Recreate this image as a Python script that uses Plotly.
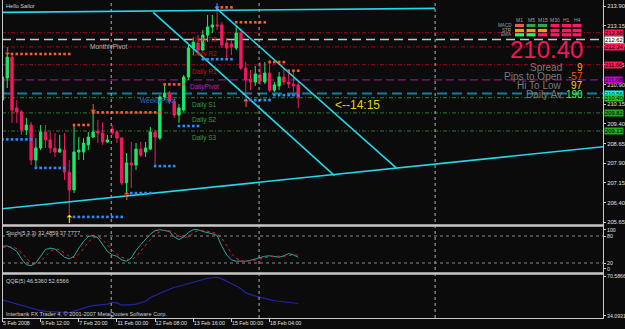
import plotly.graph_objects as go

# ---------------- data (H4 bars, index 0..62) ----------------
bar_index = list(range(63))
open_ = [210.31, 211.15, 211.95, 210.01, 209.86, 209.17, 209.36, 208.02, 208.48, 209.09,
         208.79, 208.48, 208.33, 208.40, 207.56, 206.88, 208.33, 208.33, 208.60, 208.90,
         209.13, 209.05, 208.71, 209.21, 209.09, 208.86, 207.15, 207.91, 207.83, 208.44,
         208.33, 208.44, 209.09, 208.86, 210.43, 210.58, 210.27, 209.74, 209.93, 211.19,
         212.30, 212.49, 212.22, 212.79, 213.10, 213.18, 213.18, 212.49, 212.45, 212.30,
         212.87, 211.53, 211.11, 211.00, 211.27, 211.00, 211.34, 210.69, 210.85, 211.19,
         211.00, 210.92, 210.89]
high_ = [211.31, 212.11, 212.03, 210.31, 209.93, 209.63, 209.47, 208.86, 209.36, 209.36,
         209.09, 209.05, 208.98, 209.05, 208.02, 209.36, 208.90, 208.86, 209.09, 209.93,
         209.55, 209.47, 208.98, 209.36, 209.17, 208.90, 208.29, 208.71, 208.67, 208.71,
         208.71, 209.28, 209.17, 210.50, 210.92, 210.66, 210.35, 210.16, 211.27, 212.45,
         212.68, 212.79, 212.98, 213.56, 213.56, 213.86, 213.29, 212.68, 212.60, 213.18,
         213.06, 211.76, 211.46, 211.61, 211.76, 211.76, 211.84, 211.00, 211.38, 211.53,
         211.46, 211.46, 211.00]
low_ = [210.20, 210.77, 209.44, 209.44, 208.98, 208.98, 207.83, 207.76, 208.40, 208.48,
        208.29, 208.14, 208.29, 207.26, 205.85, 206.76, 208.02, 208.02, 208.40, 208.86,
        208.67, 208.60, 208.67, 208.98, 208.67, 207.07, 206.76, 206.95, 207.64, 208.14,
        208.14, 208.40, 207.83, 208.79, 210.31, 210.16, 209.63, 209.44, 209.86, 211.08,
        212.03, 212.03, 212.18, 212.53, 212.87, 212.98, 212.30, 211.92, 212.03, 212.22,
        211.46, 210.58, 210.69, 210.85, 210.89, 210.92, 210.62, 210.62, 210.69, 210.89,
        210.77, 210.62, 210.01]
close_ = [211.19, 211.95, 209.93, 209.86, 209.17, 209.36, 208.02, 208.48, 209.09, 208.79,
          208.48, 208.33, 208.44, 207.56, 206.88, 208.33, 208.40, 208.67, 208.90, 209.09,
          209.05, 208.71, 208.79, 209.05, 208.86, 207.15, 207.91, 207.83, 208.44, 208.21,
          208.48, 209.09, 208.90, 210.43, 210.58, 210.27, 209.74, 210.01, 211.19, 212.30,
          212.53, 212.22, 212.79, 213.10, 213.18, 213.14, 212.41, 212.30, 212.34, 212.87,
          211.53, 211.08, 211.00, 211.31, 211.04, 211.34, 210.69, 210.89, 211.19, 211.00,
          210.92, 210.85, 210.40]

stoch_main = [57, 58, 53, 46, 29, 16, 14, 20, 35, 50, 53, 51, 42, 33, 29, 35, 53, 68, 79, 81,
              76, 61, 46, 38, 35, 27, 24, 31, 48, 61, 72, 84, 92, 94, 92, 90, 78, 72, 78, 88,
              94, 94, 90, 88, 85, 81, 57, 38, 27, 24, 24, 24, 26, 29, 31, 35, 36, 35, 33, 36,
              41, 38, 32.5]
stoch_signal = [55, 56, 56, 52, 43, 31, 20, 17, 23, 35, 46, 51, 49, 42, 35, 32, 39, 52, 67, 76,
                79, 72, 61, 48, 40, 33, 29, 27, 34, 47, 60, 72, 83, 90, 93, 92, 87, 80, 76, 79,
                87, 92, 93, 91, 88, 85, 74, 59, 41, 30, 25, 24, 25, 26, 29, 32, 34, 35, 35, 35,
                37, 38, 37.8]
qqe_line = [48.7, 47.5, 46.2, 45.0, 43.5, 42.2, 41.0, 39.7, 39.0, 38.3, 38.0, 38.0, 38.0, 37.6,
            37.1, 38.5, 40.0, 41.5, 42.6, 43.5, 44.1, 44.5, 45.0, 46.5, 46.0, 44.1, 44.1, 44.5,
            45.0, 46.0, 47.5, 51.0, 53.0, 54.8, 56.8, 58.4, 60.3, 61.2, 62.4, 63.5, 64.8, 66.5,
            67.6, 68.5, 69.0, 69.4, 68.0, 66.0, 63.9, 61.5, 59.0, 55.4, 53.6, 52.3, 51.0, 50.0,
            49.0, 48.0, 47.6, 47.2, 46.8, 46.0, 45.5]

price_ticks = [213.90, 213.15, 212.40, 211.65, 210.90, 210.15, 209.40, 208.65, 207.90, 207.15,
               206.40, 205.65]
stoch_tick_text = ["100", "80", "20", "0"]
stoch_tick_pos = [94, 80, 20, 7]
qqe_tick_values = [70.5866, 34.0931]
time_tick_bars = [0, 8, 16, 24, 32, 40, 48, 56]
time_tick_text = ["5 Feb 2008", "6 Feb 12:00", "7 Feb 20:00", "11 Feb 00:00", "12 Feb 08:00",
                  "13 Feb 16:00", "15 Feb 00:00", "18 Feb 04:00"]
week_separators = [22.8, 53.8, 90.7]

level_names = ["Daily R3", "MonthlyPivot", "Daily R2", "Daily R1", "DailyPivot", "WeeklyPivot",
               "Daily S1", "Daily S2", "Daily S3"]
level_values = [212.88, 212.62, 212.34, 211.66, 211.08, 210.56, 210.40, 209.82, 209.13]
level_label_bar = [39.4, 18.0, 39.4, 39.4, 38.8, 28.5, 39.4, 39.4, 39.4]

trend_x = [[-0.04, 125.96], [-0.04, 90.7], [31.6, 69.6], [44.8, 82.6]]
trend_y = [[206.16, 208.53], [213.66, 213.81], [213.66, 207.43], [213.82, 207.71]]

blue_dot_start = [0, 7, 15, 27, 32, 37, 42, 51, 57]
blue_dot_end = [6, 13, 25, 31, 36, 41, 48, 56, 62]
blue_dot_price = [208.81, 207.72, 205.85, 206.76, 207.79, 209.32, 211.87, 210.31, 210.50]
orange_dot_start = [2, 15, 19, 34, 45, 49, 56, 60]
orange_dot_end = [14, 18, 33, 38, 48, 55, 59, 62]
orange_dot_price = [212.07, 209.36, 209.84, 210.91, 213.85, 213.28, 211.76, 211.43]

arrow_bar = [1, 19, 45, 51, 26, 14]
arrow_price = [212.15, 209.96, 213.90, 210.16, 206.62, 205.73]
arrow_glyph = ["↓", "↓", "↓", "↑", "↑", "↑"]
arrow_color = ["#FF5A1E", "#FF5A1E", "#3C8CFF", "#FF5A1E", "#FF5A1E", "#FFFF00"]

tf_labels = ["M1", "M5", "M15", "M30", "H1", "H4"]
row_labels = ["MACD", "STR", "EMA"]
signal_colors = [
    ["#E85A5A", "#2FA84A", "#2FA84A", "#FF1A66", "#FF1A66", "#FF1A66"],
    ["#FF9A00", "#FF9A00", "#FF9A00", "#FF1A66", "#FF1A66", "#FF1A66"],
    ["#22FF55", "#22FF55", "#FF1A66", "#FF1A66", "#FF1A66", "#FF1A66"],
]
bid_text = "210.40"
stat_names = ["Spread", "Pips to Open", "Hi To Low", "Daily Av"]
stat_values = ["9", "-57", "97", "190"]
stat_colors = ["#FFA500", "#FF4A1A", "#FFD21E", "#33FF33"]

# ---------------- styling ----------------
BG = "#0b0b0b"
BULL = "#1EE66A"
BEAR = "#F01A5E"
CYAN = "#22D8E8"
AX = "#C8C8C8"
FONT = "Liberation Sans, Arial"

W, H = 625, 329
ML, MR, MT, MB = 2, 22, 3, 11
PW, PH = W - ML - MR, H - MT - MB


def px(x):
    return (x - ML) / PW


def py(y):
    return (H - MB - y) / PH


def note(x, y, text, size, color, xanchor="left", family=FONT):
    return dict(x=px(x), y=py(y), xref="paper", yref="paper", text=text, showarrow=False,
                xanchor=xanchor, yanchor="middle",
                font=dict(family=family, size=size, color=color))


fig = go.Figure()

fig.add_trace(go.Candlestick(
    x=bar_index, open=open_, high=high_, low=low_, close=close_,
    xaxis="x", yaxis="y", whiskerwidth=0, showlegend=False, hoverinfo="skip",
    increasing=dict(line=dict(color=BULL, width=1), fillcolor=BULL),
    decreasing=dict(line=dict(color=BEAR, width=1), fillcolor=BEAR)))

for xs, ys in zip(trend_x, trend_y):
    fig.add_trace(go.Scatter(x=xs, y=ys, mode="lines", xaxis="x", yaxis="y",
                             line=dict(color=CYAN, width=1.6), showlegend=False, hoverinfo="skip"))

for starts, ends, prices, col in [(blue_dot_start, blue_dot_end, blue_dot_price, "#2A8CFF"),
                                  (orange_dot_start, orange_dot_end, orange_dot_price, "#FF5A2A")]:
    xs, ys = [], []
    for s, e, p in zip(starts, ends, prices):
        for k in range(s, e + 1):
            xs.append(k)
            ys.append(p)
    fig.add_trace(go.Scatter(x=xs, y=ys, mode="markers", xaxis="x", yaxis="y",
                             marker=dict(symbol="square", size=2.6, color=col, line=dict(width=0)),
                             showlegend=False, hoverinfo="skip"))

fig.add_trace(go.Scatter(x=arrow_bar, y=arrow_price, mode="text", text=arrow_glyph,
                         textfont=dict(family="DejaVu Sans", size=11, color=arrow_color),
                         xaxis="x", yaxis="y", showlegend=False, hoverinfo="skip"))

fig.add_trace(go.Scatter(x=bar_index, y=stoch_main, mode="lines", xaxis="x2", yaxis="y2",
                         line=dict(color="#2AA5A5", width=1), showlegend=False, hoverinfo="skip"))
fig.add_trace(go.Scatter(x=bar_index, y=stoch_signal, mode="lines", xaxis="x2", yaxis="y2",
                         line=dict(color="#E02020", width=1, dash="dot"), showlegend=False,
                         hoverinfo="skip"))
fig.add_trace(go.Scatter(x=bar_index, y=qqe_line, mode="lines", xaxis="x3", yaxis="y3",
                         line=dict(color="#2424A0", width=1.2), showlegend=False, hoverinfo="skip"))

shapes = []
level_style = {
    "Daily R3": ("#B00018", "4px,2px,1px,2px", 1),
    "Daily R2": ("#B00018", "4px,2px,1px,2px", 1),
    "Daily R1": ("#B00018", "4px,2px,1px,2px", 1),
    "MonthlyPivot": ("#C8C8C8", "9px,5px", 1.5),
    "DailyPivot": ("#A020A0", "8px,4px", 1),
    "WeeklyPivot": ("#1C7A9C", "10px,5px", 2),
    "Daily S1": ("#2E8A2E", "4px,2px,1px,2px", 1),
    "Daily S2": ("#2E7A2E", "4px,2px,1px,2px", 1),
    "Daily S3": ("#2E7A2E", "4px,2px,1px,2px", 1),
}
level_text_color = {"MonthlyPivot": "#B8B8B8", "DailyPivot": "#C020C0", "WeeklyPivot": "#2A6AD0"}
level_box = {"Daily R3": "#FF1A55", "MonthlyPivot": "#FFFFFF", "Daily R2": "#FF1A55",
             "Daily R1": "#FF1A55", "DailyPivot": "#CC00CC", "WeeklyPivot": "#00FFFF",
             "Daily S1": "#22CC22", "Daily S2": "#22AA22", "Daily S3": "#22AA22"}

annotations = []
for name, val, lb in zip(level_names, level_values, level_label_bar):
    col, dash, wdt = level_style[name]
    shapes.append(dict(type="line", xref="paper", yref="y", x0=0, x1=1, y0=val, y1=val,
                       line=dict(color=col, width=wdt, dash=dash), layer="below"))
    tcol = level_text_color.get(name, "#C01010" if "R" in name[-2:] else "#3A9A3A")
    annotations.append(dict(x=lb, y=val, xref="x", yref="y", text=name, showarrow=False,
                            xanchor="left", yanchor="top", yshift=-1,
                            font=dict(family=FONT, size=6.5, color=tcol)))
    annotations.append(dict(x=1, y=val, xref="paper", yref="y", text=f"{val:.2f}",
                            showarrow=False, xanchor="left", yanchor="middle", xshift=1,
                            bgcolor=level_box[name], borderpad=0,
                            font=dict(family=FONT, size=5.8, color="#000000")))

for k in week_separators:
    shapes.append(dict(type="line", xref="x", yref="paper", x0=k, x1=k, y0=0, y1=1,
                       line=dict(color="#B0B0B0", width=1, dash="dot")))
for lvl in [80, 20]:
    shapes.append(dict(type="line", xref="paper", yref="y2", x0=0, x1=1, y0=lvl, y1=lvl,
                       line=dict(color="#8A8A8A", width=1, dash="dot")))

# frame and pane separators
for yy, wd in [(225.5, 2.5), (273.5, 2.5), (318.5, 1)]:
    shapes.append(dict(type="line", xref="paper", yref="paper", x0=px(2), x1=px(603.5),
                       y0=py(yy), y1=py(yy), line=dict(color=AX, width=wd)))
for xx in [2.5, 603.5]:
    shapes.append(dict(type="line", xref="paper", yref="paper", x0=px(xx), x1=px(xx),
                       y0=py(319), y1=py(0), line=dict(color=AX, width=1)))

# signal table
col_cx = [519.5, 531, 542.5, 555, 566.5, 577]
row_cy = [25.5, 30.5, 34.8]
for r, row in enumerate(signal_colors):
    for c, colr in enumerate(row):
        shapes.append(dict(type="rect", xref="paper", yref="paper",
                           x0=px(col_cx[c] - 4.5), x1=px(col_cx[c] + 4.5),
                           y0=py(row_cy[r] + 1.6), y1=py(row_cy[r] - 1.6),
                           fillcolor=colr, line=dict(width=0)))
for c, lab in enumerate(tf_labels):
    annotations.append(note(col_cx[c], 19.5, lab, 5, "#A0A0A0", xanchor="center"))
for r, lab in enumerate(row_labels):
    annotations.append(note(513.5, row_cy[r], lab, 4.6, "#A0A0A0", xanchor="right"))

annotations.append(note(584.5, 49, bid_text, 24, "#F0185C", xanchor="right"))
stat_y = [67.5, 76.5, 85.5, 94.5]
for nm, v, c, yy in zip(stat_names, stat_values, stat_colors, stat_y):
    annotations.append(note(564, yy, nm, 10, "#7A7A7A", xanchor="right"))
    annotations.append(note(585, yy, v, 10, c, xanchor="right"))

annotations.append(dict(x=69.3, y=210.12, xref="x", yref="y", text="<--14:15", showarrow=False,
                        xanchor="left", yanchor="middle",
                        font=dict(family=FONT, size=12, color="#E6D800")))

for txt, yy in [("Hello Sailor", 6), ("Stoch(5,3,3) 32.4859 37.7777", 232.5),
                ("QQE(5) 46.5360 52.6566", 281),
                ("Interbank FX Trader 4, © 2001-2007 MetaQuotes Software Corp.", 313.5)]:
    annotations.append(note(4, yy, txt, 5.6, "#D0D0D0"))

tickfont = dict(family=FONT, size=5.8, color="#E0E0E0")
fig.update_layout(
    width=W, height=H, margin=dict(l=ML, r=MR, t=MT, b=MB, autoexpand=False),
    paper_bgcolor=BG, plot_bgcolor=BG, showlegend=False,
    xaxis=dict(domain=[0, 1], range=[-0.1, 125.9], anchor="y", showticklabels=False,
               showgrid=False, zeroline=False, rangeslider=dict(visible=False), ticks="",
               automargin=False),
    xaxis2=dict(domain=[0, 1], matches="x", anchor="y2", showticklabels=False,
                showgrid=False, zeroline=False, ticks="", automargin=False),
    xaxis3=dict(domain=[0, 1], matches="x", anchor="y3", showgrid=False, zeroline=False,
                tickmode="array", tickvals=time_tick_bars, ticktext=time_tick_text,
                ticks="outside", ticklen=3, tickcolor=AX, ticklabelposition="outside right",
                tickangle=0, automargin=False,
                tickfont=dict(family=FONT, size=5.3, color="#E0E0E0")),
    yaxis=dict(domain=[py(224), 1], range=[205.58, 214.016], side="right", showgrid=False,
               zeroline=False, tickmode="array", tickvals=price_ticks, automargin=False,
               ticktext=[f"{v:.2f}" for v in price_ticks], ticks="outside", ticklen=2,
               tickcolor=AX, tickfont=tickfont),
    yaxis2=dict(domain=[py(272), py(227)], range=[0, 100], side="right", showgrid=False,
                zeroline=False, tickmode="array", tickvals=stoch_tick_pos, automargin=False,
                ticktext=stoch_tick_text, ticks="outside", ticklen=2, tickcolor=AX,
                tickfont=dict(family=FONT, size=5.2, color="#E0E0E0")),
    yaxis3=dict(domain=[0, py(275)], range=[32.26, 71.5], side="right", showgrid=False,
                zeroline=False, tickmode="array", tickvals=qqe_tick_values, automargin=False,
                ticktext=[f"{v:.4f}" for v in qqe_tick_values], ticks="outside", ticklen=2,
                tickcolor=AX, tickfont=dict(family=FONT, size=5.2, color="#E0E0E0")),
    shapes=shapes, annotations=annotations,
)

fig.write_html("out.html")
